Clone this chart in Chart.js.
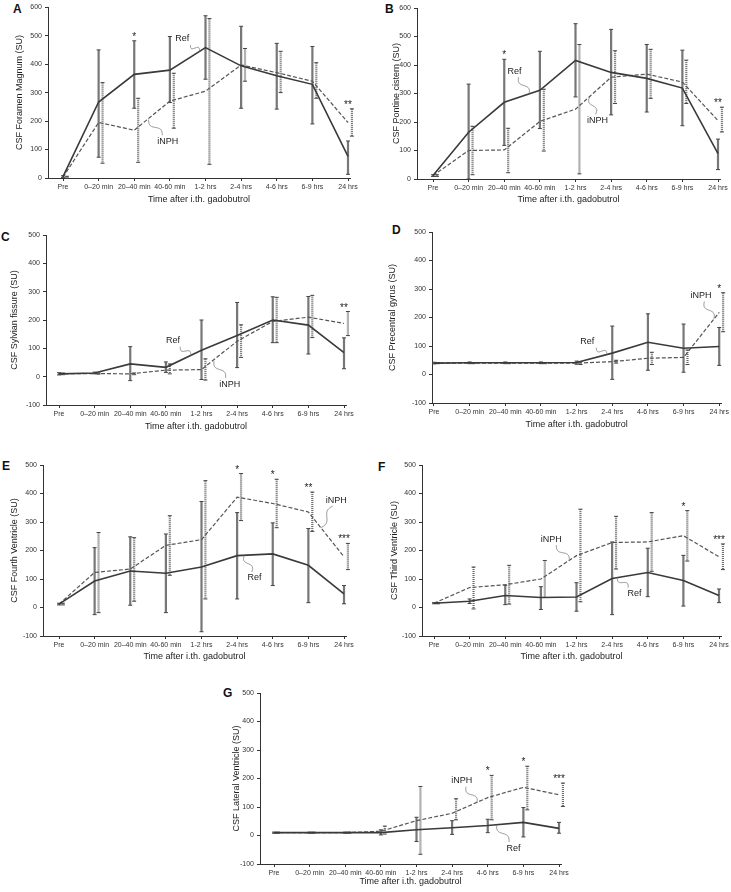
<!DOCTYPE html>
<html>
<head>
<meta charset="utf-8">
<script src="https://cdn.jsdelivr.net/npm/chart.js@4.4.1/dist/chart.umd.min.js"></script>
<style>
  body { margin: 0; background: #fff; width: 731px; height: 892px; position: relative; overflow: hidden;
         font-family: "Liberation Sans", Arial, sans-serif; }
  canvas { position: absolute; }
  .letter { position: absolute; font-weight: bold; font-size: 12px; line-height: 1; color: #111; }
</style>
</head>
<body>
<script>
const categories = ["Pre", "0–20 min", "20–40 min", "40-60 min", "1-2 hrs", "2-4 hrs", "4-6 hrs", "6-9 hrs", "24 hrs"];

// A - Foramen Magnum
const refA     = [5, 267, 364, 379, 458, 394, 359, 329, 76];
const refA_hi  = [8, 450, 482, 497, 570, 533, 473, 462, 130];
const refA_lo  = [2, 73, 245, 265, 347, 245, 242, 190, 13];
const inphA    = [3, 195, 168, 270, 305, 397, 370, 340, 195];
const inphA_hi = [6, 335, 280, 368, 560, 455, 445, 405, 243];
const inphA_lo = [0, 52, 55, 175, 48, 340, 300, 280, 147];
const starsA   = ["", "", "*", "", "", "", "", "", "**"];

// B - Pontine cistern
const refB     = [12, 164, 269, 311, 416, 374, 353, 319, 89];
const refB_hi  = [15, 333, 420, 448, 545, 525, 472, 452, 140];
const refB_lo  = [9, 0, 118, 177, 288, 225, 235, 187, 33];
const inphB    = [12, 100, 102, 202, 245, 357, 368, 340, 205];
const inphB_hi = [15, 185, 178, 315, 472, 450, 455, 417, 252];
const inphB_lo = [9, 15, 22, 98, 18, 265, 283, 265, 165];
const starsB   = ["", "", "*", "", "", "", "", "", "**"];

// C - Sylvian fissure
const refC     = [10, 13, 45, 33, 93, 145, 200, 182, 85];
const refC_hi  = [14, 16, 106, 52, 200, 262, 282, 283, 137];
const refC_lo  = [6, 10, -14, 15, -10, 32, 120, 80, 28];
const inphC    = [10, 11, 10, 23, 25, 125, 195, 210, 188];
const inphC_hi = [13, 13, 13, 45, 63, 183, 280, 287, 230];
const inphC_lo = [7, 9, 7, 10, -12, 68, 120, 138, 145];
const starsC   = ["", "", "", "", "", "", "", "", "**"];

// D - Precentral gyrus
const refD     = [40, 41, 41, 41, 42, 75, 113, 92, 98];
const refD_hi  = [43, 44, 44, 44, 47, 170, 213, 177, 165];
const refD_lo  = [37, 38, 38, 38, 36, -17, 15, 8, 32];
const inphD    = [40, 40, 40, 40, 40, 45, 57, 60, 218];
const inphD_hi = [42, 42, 42, 42, 45, 50, 78, 86, 287];
const inphD_lo = [38, 38, 38, 38, 35, 40, 35, 35, 150];
const starsD   = ["", "", "", "", "", "", "", "", "*"];

// E - Fourth Ventricle
const refE     = [12, 93, 128, 120, 142, 182, 188, 148, 48];
const refE_hi  = [15, 210, 248, 258, 372, 333, 297, 277, 77];
const refE_lo  = [9, -25, 8, -18, -85, 30, 77, 17, 13];
const inphE    = [12, 123, 135, 218, 238, 387, 365, 335, 178];
const inphE_hi = [15, 263, 245, 322, 445, 470, 450, 405, 225];
const inphE_lo = [9, -18, 22, 113, 30, 305, 280, 267, 133];
const starsE   = ["", "", "", "", "", "*", "*", "**", "***"];

// F - Third Ventricle
const refF     = [15, 22, 42, 35, 37, 102, 123, 95, 42];
const refF_hi  = [17, 30, 78, 73, 87, 230, 208, 183, 65];
const refF_lo  = [13, 14, 10, -7, -13, -25, 38, 5, 17];
const inphF    = [15, 70, 80, 100, 182, 228, 230, 252, 178];
const inphF_hi = [17, 142, 148, 165, 345, 320, 333, 340, 223];
const inphF_lo = [13, -5, 12, 35, 20, 135, 127, 163, 133];
const starsF   = ["", "", "", "", "", "", "", "*", "***"];

// G - Lateral Ventricle
const refG     = [10, 10, 10, 10, 20, 27, 35, 46, 25];
const refG_hi  = [12, 12, 12, 20, 64, 52, 57, 98, 46];
const refG_lo  = [8, 8, 8, 2, -21, 4, 10, -5, 8];
const inphG    = [10, 10, 10, 15, 52, 78, 133, 169, 143];
const inphG_hi = [12, 12, 12, 33, 172, 129, 211, 243, 184];
const inphG_lo = [8, 8, 8, 5, -66, 55, 55, 90, 102];
const starsG   = ["", "", "", "", "", "", "*", "*", "***"];

Chart.defaults.font.family = '"Liberation Sans", Arial, sans-serif';
Chart.defaults.color = '#333';

const panels = [
  { letter: 'A', lx: 13, ly: 3, left: 0, top: 0, w: 365, h: 212, axisX: 48, preX: 63, lastX: 348,
    plotTop: 7, plotBottom: 178, yMin: 0, yMax: 600, titleX: 20, xTitleY: 200,
    yTitle: 'CSF Foramen Magnum (SU)',
    ref: refA, refHi: refA_hi, refLo: refA_lo, inph: inphA, inphHi: inphA_hi, inphLo: inphA_lo, stars: starsA,
    notes: [{ t: 'Ref', x: 3.35, y: 489, tx: 3.83, ty: 445 }, { t: 'iNPH', x: 2.94, y: 129, tx: 2.4, ty: 205 }] },
  { letter: 'B', lx: 385, ly: 3, left: 365, top: 0, w: 366, h: 212, axisX: 417, preX: 433, lastX: 718,
    plotTop: 8, plotBottom: 179, yMin: 0, yMax: 600, titleX: 397, xTitleY: 200,
    yTitle: 'CSF Pontine cistern (SU)',
    ref: refB, refHi: refB_hi, refLo: refB_lo, inph: inphB, inphHi: inphB_hi, inphLo: inphB_lo, stars: starsB,
    notes: [{ t: 'Ref', x: 2.29, y: 378, tx: 2.7, ty: 299 }, { t: 'iNPH', x: 4.62, y: 206, tx: 4.4, ty: 288 }] },
  { letter: 'C', lx: 1, ly: 231, left: 0, top: 226, w: 365, h: 216, axisX: 46, preX: 59, lastX: 344,
    plotTop: 235, plotBottom: 405, yMin: -100, yMax: 500, titleX: 15, xTitleY: 427,
    yTitle: 'CSF Sylvian fissure (SU)',
    ref: refC, refHi: refC_hi, refLo: refC_lo, inph: inphC, inphHi: inphC_hi, inphLo: inphC_lo, stars: starsC,
    notes: [{ t: 'Ref', x: 3.2, y: 127, tx: 3.7, ty: 75 }, { t: 'iNPH', x: 4.79, y: -26, tx: 4.35, ty: 55 }] },
  { letter: 'D', lx: 392, ly: 224, left: 365, top: 224, w: 366, h: 216, axisX: 432, preX: 434, lastX: 720,
    plotTop: 232, plotBottom: 403, yMin: -100, yMax: 500, titleX: 393, xTitleY: 425,
    yTitle: 'CSF Precentral gyrus (SU)',
    ref: refD, refHi: refD_hi, refLo: refD_lo, inph: inphD, inphHi: inphD_hi, inphLo: inphD_lo, stars: starsD,
    notes: [{ t: 'Ref', x: 4.3, y: 114, tx: 4.85, ty: 70 }, { t: 'iNPH', x: 7.49, y: 277, tx: 7.85, ty: 195 }] },
  { letter: 'E', lx: 2, ly: 460, left: 0, top: 456, w: 365, h: 216, axisX: 43, preX: 59, lastX: 344,
    plotTop: 465, plotBottom: 636, yMin: -100, yMax: 500, titleX: 15, xTitleY: 657,
    yTitle: 'CSF Fourth Ventricle (SU)',
    ref: refE, refHi: refE_hi, refLo: refE_lo, inph: inphE, inphHi: inphE_hi, inphLo: inphE_lo, stars: starsE,
    notes: [{ t: 'iNPH', x: 7.78, y: 377, tx: 7.35, ty: 280 }, { t: 'Ref', x: 5.49, y: 104, tx: 5.2, ty: 183 }] },
  { letter: 'F', lx: 378, ly: 461, left: 365, top: 456, w: 366, h: 216, axisX: 422, preX: 434, lastX: 719,
    plotTop: 465, plotBottom: 636, yMin: -100, yMax: 500, titleX: 395, xTitleY: 657,
    yTitle: 'CSF Third Ventricle (SU)',
    ref: refF, refHi: refF_hi, refLo: refF_lo, inph: inphF, inphHi: inphF_hi, inphLo: inphF_lo, stars: starsF,
    notes: [{ t: 'iNPH', x: 3.29, y: 240, tx: 3.8, ty: 165 }, { t: 'Ref', x: 5.63, y: 49, tx: 5.15, ty: 105 }] },
  { letter: 'G', lx: 223, ly: 687, left: 180, top: 684, w: 400, h: 208, axisX: 260, preX: 274, lastX: 559,
    plotTop: 693, plotBottom: 864, yMin: -100, yMax: 500, titleX: 237, xTitleY: 882,
    yTitle: 'CSF Lateral Ventricle (SU)',
    ref: refG, refHi: refG_hi, refLo: refG_lo, inph: inphG, inphHi: inphG_hi, inphLo: inphG_lo, stars: starsG,
    notes: [{ t: 'iNPH', x: 5.27, y: 192, tx: 5.7, ty: 115 }, { t: 'Ref', x: 6.72, y: -44, tx: 6.25, ty: 37 }] }
];

function squiggle(ctx, x0, y0, x1, y1) {
  const dx = x1 - x0, dy = y1 - y0, len = Math.hypot(dx, dy) || 1;
  const nx = -dy / len, ny = dx / len;
  ctx.beginPath();
  for (let k = 0; k <= 40; k++) {
    const t = k / 40;
    const a = Math.sin(t * Math.PI * 2) * 2.6;
    const px = x0 + dx * t + nx * a, py = y0 + dy * t + ny * a;
    if (k === 0) ctx.moveTo(px, py); else ctx.lineTo(px, py);
  }
  ctx.stroke();
}

function drawBars(ctx, x, y, hi, lo, shift, style) {
  hi.forEach((h, i) => {
    const px = x.getPixelForValue(i + shift);
    const y1 = y.getPixelForValue(h), y2 = y.getPixelForValue(lo[i]);
    ctx.strokeStyle = style.color;
    ctx.lineWidth = style.width;
    ctx.setLineDash(style.dash);
    ctx.beginPath(); ctx.moveTo(px, y1); ctx.lineTo(px, y2); ctx.stroke();
    ctx.setLineDash([]);
    ctx.strokeStyle = '#444';
    ctx.lineWidth = 1;
    ctx.beginPath();
    ctx.moveTo(px - 2, y1); ctx.lineTo(px + 2, y1);
    ctx.moveTo(px - 2, y2); ctx.lineTo(px + 2, y2);
    ctx.stroke();
  });
}

panels.forEach(p => {
  const letter = document.createElement('div');
  letter.className = 'letter';
  letter.textContent = p.letter;
  letter.style.left = p.lx + 'px';
  letter.style.top = p.ly + 'px';
  document.body.appendChild(letter);

  const canvas = document.createElement('canvas');
  canvas.width = p.w; canvas.height = p.h;
  canvas.style.left = p.left + 'px'; canvas.style.top = p.top + 'px';
  canvas.style.width = p.w + 'px'; canvas.style.height = p.h + 'px';
  document.body.appendChild(canvas);

  const sp = (p.lastX - p.preX) / 8;
  const xMin = -(p.preX - p.axisX) / sp;
  const rightEdge = p.lastX + 2;
  const xMax = 8 + 2 / sp;
  const yW = p.axisX - p.left;
  const xH = p.h - (p.plotBottom - p.top);
  const lh = 9 * 1.2;

  const extras = {
    id: 'extras' + p.letter,
    beforeDatasetsDraw(chart) {
      const { ctx, scales: { x, y } } = chart;
      ctx.save();
      drawBars(ctx, x, y, p.refHi, p.refLo, 0, { color: '#777', width: 2.2, dash: [] });
      drawBars(ctx, x, y, p.inphHi, p.inphLo, 0.11, { color: '#666', width: 2.2, dash: [1, 1] });
      ctx.restore();
    },
    afterDatasetsDraw(chart) {
      const { ctx, scales: { x, y } } = chart;
      ctx.save();
      ctx.fillStyle = '#222';
      ctx.font = '10px "Liberation Sans", Arial, sans-serif';
      ctx.textAlign = 'center';
      ctx.textBaseline = 'alphabetic';
      p.stars.forEach((s, i) => {
        if (!s) return;
        const top = Math.max(p.refHi[i], p.inphHi[i]);
        ctx.fillText(s, x.getPixelForValue(i), y.getPixelForValue(top) - 1);
      });
      ctx.font = '9px "Liberation Sans", Arial, sans-serif';
      ctx.textBaseline = 'middle';
      ctx.strokeStyle = '#777';
      ctx.lineWidth = 0.8;
      p.notes.forEach(n => {
        const lx = x.getPixelForValue(n.x), ly = y.getPixelForValue(n.y);
        const tx = x.getPixelForValue(n.tx), ty = y.getPixelForValue(n.ty);
        ctx.fillText(n.t, lx, ly);
        const hw = ctx.measureText(n.t).width / 2 + 2, hh = 6;
        const dx = tx - lx, dy = ty - ly;
        const k = Math.min(hw / (Math.abs(dx) || 1e-6), hh / (Math.abs(dy) || 1e-6));
        squiggle(ctx, lx + dx * k, ly + dy * k, tx, ty);
      });
      ctx.restore();
    }
  };

  new Chart(canvas, {
    type: 'line',
    data: {
      datasets: [
        {
          label: 'Ref',
          data: p.ref.map((v, i) => ({ x: i, y: v })),
          borderColor: '#3a3a3a', borderWidth: 1.6, pointRadius: 0, tension: 0
        },
        {
          label: 'iNPH',
          data: p.inph.map((v, i) => ({ x: i, y: v })),
          borderColor: '#555', borderWidth: 1.2, borderDash: [4, 2], pointRadius: 0, tension: 0
        }
      ]
    },
    options: {
      responsive: false,
      animation: false,
      devicePixelRatio: 1,
      layout: { padding: { left: 0, top: p.plotTop - p.top, right: (p.left + p.w) - rightEdge, bottom: 0 } },
      plugins: { legend: { display: false }, tooltip: { enabled: false } },
      scales: {
        x: {
          type: 'linear', min: xMin, max: xMax,
          afterBuildTicks: s => { s.ticks = categories.map((c, i) => ({ value: i })); },
          afterFit: s => { s.height = xH; },
          ticks: { callback: v => categories[v], font: { size: 7 }, color: '#333', padding: 2,
                   maxRotation: 0, autoSkip: false },
          grid: { drawOnChartArea: false, drawTicks: true, tickLength: 3, color: '#333' },
          border: { color: '#333', width: 1 },
          title: { display: true, text: 'Time after i.th. gadobutrol', font: { size: 9 }, color: '#222',
                   padding: { top: 0, bottom: p.h - (p.xTitleY - p.top) - lh / 2 } }
        },
        y: {
          min: p.yMin, max: p.yMax,
          afterFit: s => { s.width = yW; },
          ticks: { stepSize: 100, font: { size: 7 }, color: '#333', padding: 3 },
          grid: { drawOnChartArea: false, drawTicks: true, tickLength: 3, color: '#333' },
          border: { color: '#333', width: 1 },
          title: { display: true, text: p.yTitle, font: { size: 9 }, color: '#222',
                   padding: { top: p.titleX - p.left - lh / 2, bottom: 0 } }
        }
      }
    },
    plugins: [extras]
  });
});
</script>
</body>
</html>
